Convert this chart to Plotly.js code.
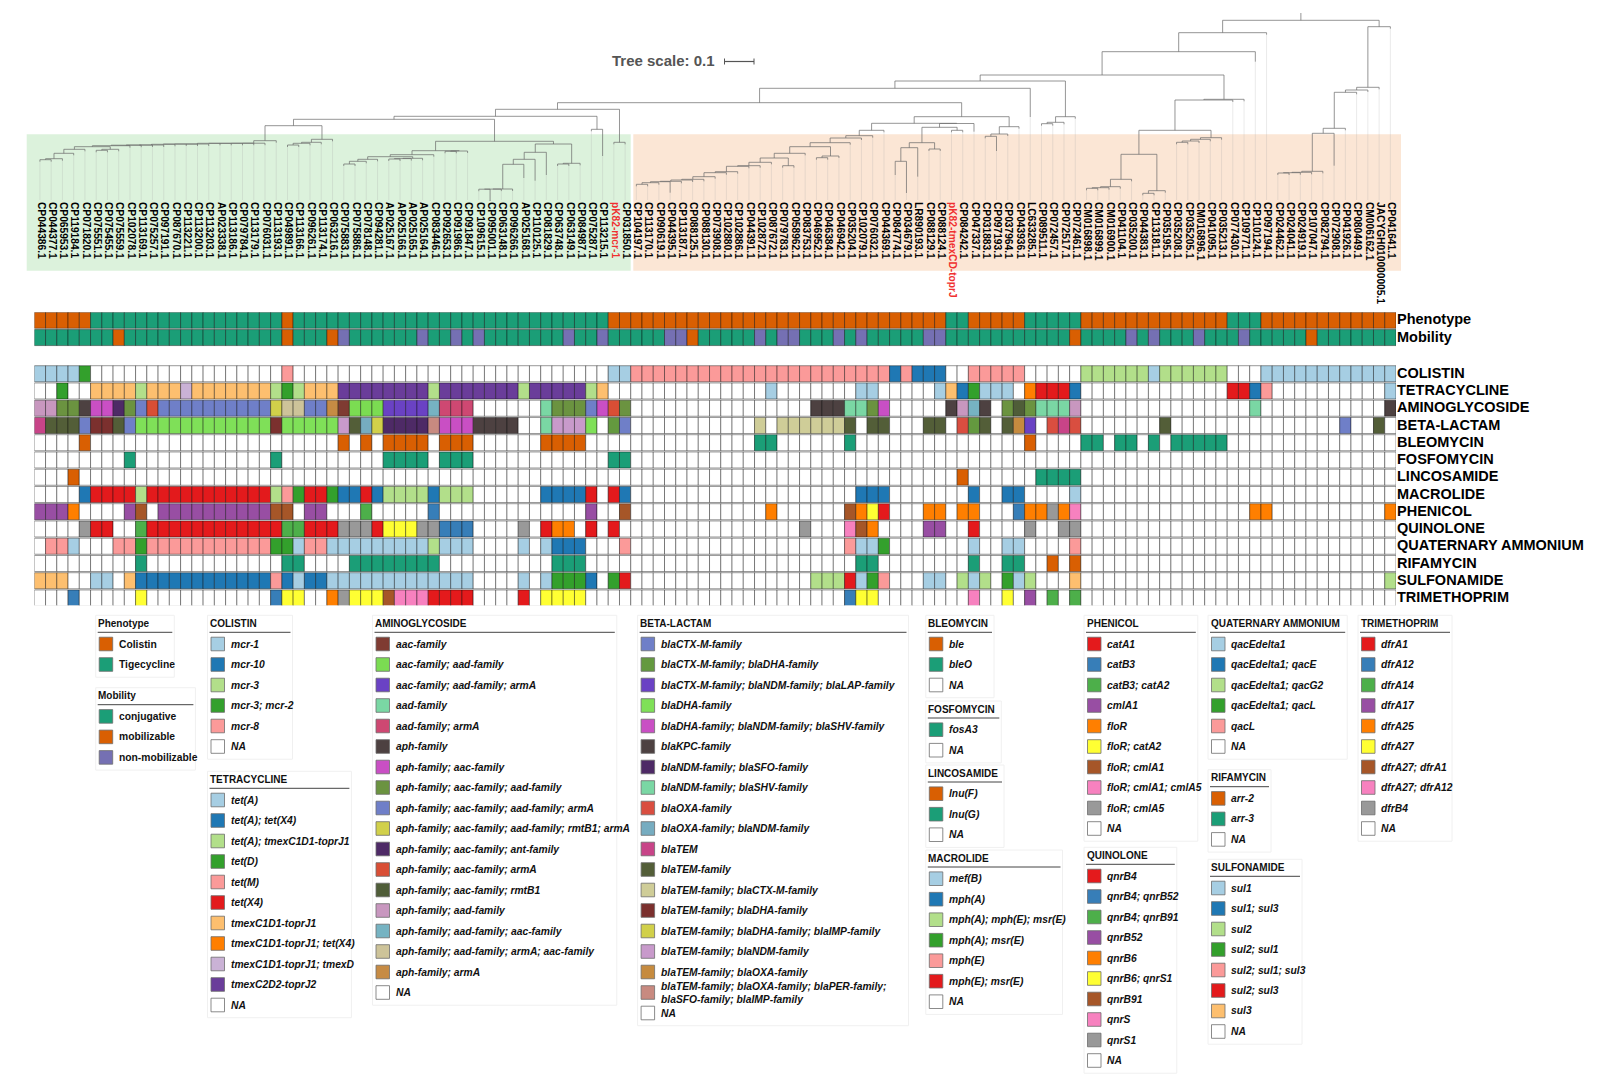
<!DOCTYPE html>
<html><head><meta charset="utf-8">
<script src="https://cdn.plot.ly/plotly-3.0.1.min.js"></script>
<style>html,body{margin:0;padding:0;background:#fff}#c{width:1622px;height:1091px}</style>
</head><body><div id="c"></div>
<script>
// ---------- leaves ----------
const leaves=["CP044386.1","CP044377.1","CP065953.1","CP119184.1","CP071820.1","CP075551.1","CP075455.1","CP075559.1","CP102078.1","CP113169.1",
"CP075257.1","CP097191.1","CP087670.1","CP113221.1","CP113200.1","CP113203.1","AP023338.1","CP113186.1","CP079784.1","CP113179.1",
"CP076031.1","CP113193.1","CP049891.1","CP113166.1","CP096261.1","CP113174.1","CP063216.1","CP075883.1","CP075886.1","CP078148.1",
"CP094281.1","AP025167.1","AP025166.1","AP025165.1","AP025164.1","CP083446.1","CP092653.1","CP091986.1","CP091847.1","CP109615.1",
"CP095001.1","CP063148.1","CP096266.1","AP025168.1","CP110125.1","CP081829.1","CP063748.1","CP063149.1","CP084987.1","CP075287.1",
"CP113215.1","pK82-mcr-1","CP031850.1","CP104197.1","CP113170.1","CP090619.1","CP044395.1","CP113187.1","CP088125.1","CP088130.1",
"CP073908.1","CP102880.1","CP102886.1","CP044391.1","CP102872.1","CP087672.1","CP079783.1","CP058962.1","CP083753.1","CP046952.1",
"CP046384.1","CP046942.1","CP035204.1","CP102079.1","CP076032.1","CP044369.1","CP084774.1","CP034679.1","LR890193.1","CP088129.1",
"CP088124.1","pK82-tmexCD-toprJ","CP084242.1","CP047337.1","CP031883.1","CP097193.1","CP037964.1","CP043936.1","LC633285.1","CP089511.1",
"CP072457.1","CP072517.1","CP072461.1","CM016898.1","CM016899.1","CM016900.1","CP041104.1","CP035200.1","CP044383.1","CP113181.1",
"CP035195.1","CP035208.1","CP035205.1","CM016896.1","CP041095.1","CP035213.1","CP077430.1","CP109771.1","CP110124.1","CP097194.1",
"CP024462.1","CP024041.1","CP024919.1","CP107047.1","CP082794.1","CP072908.1","CP041926.1","CP080449.1","CM006162.1","JACYGH010000005.1",
"CP041641.1"];
const redLeaves=["pK82-mcr-1","pK82-tmexCD-toprJ"];

// ---------- annotation rows (0 = NA, n = n-th legend entry) ----------
const phenotype=[1,1,1,1,1,2,2,2,2,2, 2,2,2,2,2,2,2,2,2,2, 2,2,1,2,2,2,2,2,2,2, 2,2,2,2,2,2,2,2,2,2, 2,2,2,2,2,2,2,2,2,2,
 2,1,1,1,1,1,1,1,1,1, 1,1,1,1,1,1,1,1,1,1, 1,1,1,1,1,1,1,1,1,1, 1,2,2,1,1,1,1,1,2,2, 2,2,2,1,1,1,1,1,1,1, 1,1,1,1,1,1,2,2,2,1, 1,1,1,1,1,1,1,1,1,1, 1];
const mobility=[1,1,1,1,1,1,1,2,1,1, 1,1,1,1,1,1,1,1,1,1, 1,1,2,1,1,1,2,3,1,1, 1,1,1,1,3,1,1,3,1,3, 1,1,1,1,1,1,1,3,1,1,
 3,1,1,1,1,1,3,3,2,1, 1,1,1,1,3,1,3,3,1,1, 1,3,1,3,1,1,1,1,1,3, 3,1,1,1,1,1,1,1,1,1, 1,1,2,1,1,1,1,3,1,3, 1,1,1,3,1,1,1,3,1,1, 1,1,1,2,1,1,1,1,1,1, 1];
const colistin=[1,1,1,1,4,0,0,0,0,0, 0,0,0,0,0,0,0,0,0,0, 0,0,5,0,0,0,0,0,0,0, 0,0,0,0,0,0,0,0,0,0, 0,0,0,0,0,0,0,0,0,0,
 0,1,1,5,5,5,5,5,5,5, 5,5,5,5,5,5,5,5,5,5, 5,5,5,5,5,5,2,5,2,2, 2,0,0,5,5,5,5,5,0,0, 0,0,0,3,3,3,3,3,3,1, 3,3,3,3,3,3,0,0,0,1, 1,1,1,1,1,1,1,1,1,1, 1];
const tetracycline=[0,0,4,0,0,7,7,7,7,3, 7,7,7,9,7,7,7,7,7,7, 7,3,4,3,7,7,7,10,10,10, 10,10,10,10,10,3,10,10,10,10, 10,10,10,3,10,10,10,10,10,3,
 7,0,0,0,0,0,0,0,0,0, 0,0,0,0,0,1,0,0,0,0, 0,0,0,1,1,0,0,0,0,0, 1,7,2,4,1,1,1,0,8,6, 6,6,2,0,0,0,0,0,0,0, 0,0,0,0,0,0,6,6,2,5, 0,0,0,0,0,0,0,0,0,0, 1];
const aminoglycoside=[14,14,8,8,6,7,7,11,8,9, 12,9,9,9,9,9,9,9,9,9, 9,10,16,16,9,9,17,1,2,2, 2,3,3,3,3,15,5,5,5,0, 0,0,0,0,0,4,8,8,8,9,
 7,12,8,0,0,0,0,0,0,0, 0,0,0,0,0,0,0,0,0,6, 6,6,4,4,8,7,0,0,0,0, 0,6,14,15,6,0,8,13,8,4, 4,4,14,0,0,0,0,0,0,0, 0,0,0,0,0,0,0,0,4,0, 0,0,0,0,0,0,0,0,0,0, 6];
const betaLactam=[11,12,12,12,1,14,14,12,1,4, 4,4,4,4,4,4,4,4,4,4, 4,14,4,4,4,4,4,16,12,10, 15,7,7,7,7,18,5,5,5,6, 6,6,6,0,0,8,16,16,16,4,
 0,2,1,0,0,0,0,0,0,0, 0,0,0,0,13,0,13,13,13,13, 13,13,12,0,12,12,0,0,0,12, 12,0,9,2,12,0,12,17,3,0, 9,11,9,0,0,0,0,0,0,0, 12,0,0,0,0,0,0,0,0,0, 0,0,0,0,0,0,1,0,0,12, 0];
const bleomycin=[0,0,0,0,1,0,0,0,0,0, 0,0,0,0,0,0,0,0,0,0, 0,0,0,0,0,0,0,1,0,1, 0,1,1,1,1,0,1,1,1,0, 0,0,0,0,0,1,1,1,1,0,
 0,0,0,0,0,0,0,0,0,0, 0,0,0,0,2,2,0,0,0,0, 0,0,2,0,0,0,0,0,0,0, 0,0,0,0,0,0,0,0,1,0, 0,0,0,2,2,0,2,2,0,2, 0,2,2,2,2,2,0,0,0,0, 0,0,0,0,0,0,0,0,0,0, 0];
const fosfomycin=[0,0,0,0,0,0,0,0,1,0, 0,0,0,0,0,0,0,0,0,0, 0,1,0,0,0,0,0,0,0,0, 0,1,1,1,1,0,1,1,1,0, 0,0,0,0,0,0,0,0,0,0,
 0,1,1,0,0,0,0,0,0,0, 0,0,0,0,0,0,0,0,0,0, 0,0,0,0,0,0,0,0,0,0, 0,0,0,0,0,0,0,0,0,0, 0,0,0,0,0,0,0,0,0,0, 0,0,0,0,0,0,0,0,0,0, 0,0,0,0,0,0,0,0,0,0, 0];
const lincosamide=[0,0,0,1,0,0,0,0,0,0, 0,0,0,0,0,0,0,0,0,0, 0,0,0,0,0,0,0,0,0,0, 0,0,0,0,0,0,0,0,0,0, 0,0,0,0,0,0,0,0,0,0,
 0,0,0,0,0,0,0,0,0,0, 0,0,0,0,0,0,0,0,0,0, 0,0,0,0,0,0,0,0,0,0, 0,0,1,0,0,0,0,0,0,2, 2,2,2,0,0,0,0,0,0,0, 0,0,0,0,0,0,0,0,0,0, 0,0,0,0,0,0,0,0,0,0, 0];
const macrolide=[0,0,0,0,2,6,6,6,6,3, 6,6,6,6,6,6,6,6,6,6, 6,3,5,4,6,6,4,2,2,6, 2,3,3,3,3,2,3,3,3,0, 0,0,0,0,0,2,2,2,2,6,
 0,6,2,0,0,0,0,0,0,0, 0,0,0,0,0,0,0,0,0,0, 0,0,0,2,2,2,0,0,0,0, 0,0,0,2,0,0,2,2,0,0, 0,0,1,0,0,0,0,0,0,0, 0,0,0,0,0,0,0,0,0,0, 0,0,0,0,0,0,0,0,0,0, 0];
const phenicol=[4,4,4,5,0,0,0,0,4,7, 0,4,4,4,4,4,4,4,4,4, 4,7,7,0,4,4,0,0,0,3, 0,0,0,0,0,2,0,0,0,0, 0,0,0,0,0,0,0,0,0,4,
 0,0,7,0,0,0,0,0,0,0, 0,0,0,0,0,5,0,0,0,0, 0,0,7,5,6,1,0,0,0,5, 5,0,5,5,0,0,0,2,5,5, 9,5,8,0,0,0,0,0,0,0, 0,0,0,0,0,0,0,0,5,5, 0,0,0,0,0,0,0,0,0,0, 5];
const quinolone=[0,0,0,0,9,1,1,0,0,3, 1,1,1,1,1,1,1,1,1,1, 1,1,3,3,1,1,1,9,9,9, 1,6,6,6,9,9,2,2,2,0, 0,0,0,9,0,1,5,5,0,1,
 0,1,0,0,0,0,0,0,0,0, 0,0,0,0,0,0,0,0,9,0, 0,0,8,7,5,0,0,0,0,4, 4,0,0,1,0,0,0,0,9,0, 0,9,9,0,0,0,0,0,0,0, 0,0,0,0,0,0,0,0,0,0, 0,0,0,0,0,0,0,0,0,0, 0];
const quaternary=[0,5,5,1,0,0,0,5,5,4, 5,5,5,5,5,5,5,5,5,5, 5,4,4,1,5,5,1,1,1,1, 1,1,1,1,1,3,1,1,1,0, 0,0,0,1,0,1,2,2,2,0,
 0,0,5,0,0,0,0,0,0,0, 0,0,0,0,0,0,0,0,0,0, 0,0,5,1,1,4,0,0,0,0, 0,0,0,1,0,0,1,1,0,0, 0,0,5,0,0,0,0,0,0,0, 0,0,0,0,0,0,0,0,0,0, 0,0,0,0,0,0,0,0,0,0, 0];
const rifamycin=[0,0,0,0,0,0,0,0,0,2, 0,0,0,0,0,0,0,0,0,0, 0,0,2,2,0,0,0,0,2,2, 2,2,2,2,2,2,0,0,0,0, 0,0,0,0,0,0,2,2,2,0,
 0,0,0,0,0,0,0,0,0,0, 0,0,0,0,0,0,0,0,0,0, 0,0,0,2,2,0,0,0,0,0, 0,0,0,2,0,0,2,2,0,0, 1,0,1,0,0,0,0,0,0,0, 0,0,0,0,0,0,0,0,0,0, 0,0,0,0,0,0,0,0,0,0, 0];
const sulfonamide=[7,7,7,0,0,1,1,0,7,2, 2,2,2,2,2,2,2,2,2,2, 2,5,2,1,2,2,1,1,1,1, 1,1,1,1,1,1,1,1,1,0, 0,0,0,1,0,1,4,4,4,2,
 0,4,6,0,0,0,0,0,0,0, 0,0,0,0,0,0,0,0,0,3, 3,3,6,1,4,5,0,0,0,1, 1,0,3,1,3,0,4,1,3,0, 0,0,7,0,0,0,0,0,0,0, 0,0,0,0,0,0,0,0,0,0, 0,0,0,0,0,0,0,0,0,0, 3];
const trimethoprim=[0,0,0,2,0,0,0,0,0,6, 0,0,0,0,0,0,0,0,0,0, 0,2,6,6,0,0,5,9,6,6, 6,7,8,8,8,1,1,1,1,0, 0,0,0,1,0,6,6,6,6,0,
 0,0,0,0,0,0,0,0,0,0, 0,0,0,0,0,0,0,0,0,0, 0,0,2,6,6,0,0,0,0,0, 0,0,0,8,0,0,6,0,4,0, 3,0,3,0,0,0,0,0,0,0, 0,0,0,0,0,0,0,0,0,0, 0,0,0,0,0,0,0,0,0,0, 0];

// ---------- legend entries ----------
const NA="NA", white="#ffffff";
const paired=["#A6CEE3","#1F78B4","#B2DF8A","#33A02C","#FB9A99","#E31A1C","#FDBF6F","#FF7F00","#CAB2D6","#6A3D9A"];
const set1=["#E41A1C","#377EB8","#4DAF4A","#984EA3","#FF7F00","#FFFF33","#A65628","#F781BF","#999999"];
const dark2=["#D95F02","#1B9E77","#7570B3"];
const dark2b=["#1B9E77","#D95F02","#7570B3"];
const phenotypeNames=["Colistin","Tigecycline"];
const mobilityNames=["conjugative","mobilizable","non-mobilizable"];
const colistinNames=["mcr-1","mcr-10","mcr-3","mcr-3; mcr-2","mcr-8",NA];
const tetracyclineNames=["tet(A)","tet(A); tet(X4)","tet(A); tmexC1D1-toprJ1","tet(D)","tet(M)","tet(X4)","tmexC1D1-toprJ1","tmexC1D1-toprJ1; tet(X4)","tmexC1D1-toprJ1; tmexD","tmexC2D2-toprJ2",NA];
const aminoNames=["aac-family","aac-family; aad-family","aac-family; aad-family; armA","aad-family","aad-family; armA","aph-family","aph-family; aac-family","aph-family; aac-family; aad-family","aph-family; aac-family; aad-family; armA","aph-family; aac-family; aad-family; rmtB1; armA","aph-family; aac-family; ant-family","aph-family; aac-family; armA","aph-family; aac-family; rmtB1","aph-family; aad-family","aph-family; aad-family; aac-family","aph-family; aad-family; armA; aac-family","aph-family; armA",NA];
const aminoColors=["#7F3B32","#7BDC52","#6A42C4","#7AD7A4","#CE4872","#4D4141","#C94FC4","#6B9340","#6F7FC8","#D1D04A","#4E2A66","#D94E35","#4F5D38","#C897BF","#76B3C2","#CDC399","#C68B44"];
const betaNames=["blaCTX-M-family","blaCTX-M-family; blaDHA-family","blaCTX-M-family; blaNDM-family; blaLAP-family","blaDHA-family","blaDHA-family; blaNDM-family; blaSHV-family","blaKPC-family","blaNDM-family; blaSFO-family","blaNDM-family; blaSHV-family","blaOXA-family","blaOXA-family; blaNDM-family","blaTEM","blaTEM-family","blaTEM-family; blaCTX-M-family","blaTEM-family; blaDHA-family","blaTEM-family; blaDHA-family; blaIMP-family","blaTEM-family; blaNDM-family","blaTEM-family; blaOXA-family","blaTEM-family; blaOXA-family; blaPER-family;<br>blaSFO-family; blaIMP-family",NA];
const betaColors=["#6F7FC8","#64993F","#6A42C4","#7FE058","#C94FC4","#4D4141","#4E2A66","#7AD7A4","#D94E40","#76ACC0","#C84488","#535E38","#CFCD98","#7B302E","#D1D04A","#C89ACB","#C68B3F","#C88A80"];
const bleoNames=["ble","bleO",NA];
const fosfoNames=["fosA3",NA];
const lincoNames=["lnu(F)","lnu(G)",NA];
const macroNames=["mef(B)","mph(A)","mph(A); mph(E); msr(E)","mph(A); msr(E)","mph(E)","mph(E); msr(E)",NA];
const phenicolNames=["catA1","catB3","catB3; catA2","cmlA1","floR","floR; catA2","floR; cmlA1","floR; cmlA1; cmlA5","floR; cmlA5",NA];
const quinoloneNames=["qnrB4","qnrB4; qnrB52","qnrB4; qnrB91","qnrB52","qnrB6","qnrB6; qnrS1","qnrB91","qnrS","qnrS1",NA];
const quatNames=["qacEdelta1","qacEdelta1; qacE","qacEdelta1; qacG2","qacEdelta1; qacL","qacL",NA];
const rifaNames=["arr-2","arr-3",NA];
const sulfaNames=["sul1","sul1; sul3","sul2","sul2; sul1","sul2; sul1; sul3","sul2; sul3","sul3",NA];
const trimNames=["dfrA1","dfrA12","dfrA14","dfrA17","dfrA25","dfrA27","dfrA27; dfrA1","dfrA27; dfrA12","dfrB4",NA];
const greens=[dark2[1]];

// ---------- tree: [height, childA, childB]; a number is a leaf column ----------
const ladder=(first,steps)=>steps.reduce((n,s)=>[s[0],n,s[1]],first);
const cladeL1=ladder([146.7,ladder([159.7,0,1],[[158.7,2],[153.3,3],[149.3,4]]),[149.3,[150.3,5,6],7]],[[145.7,8],[145.2,9],[145,10],[145,11],[144.3,12],[144,13],[144,14],[144,15],[143.3,16],[143.3,17],[143.3,18],[143.2,19],[143.2,20],[140.7,21]]);
const cladeC22=ladder([145,22,23],[[143.3,24],[142.3,25],[139.3,26]]);
const cladeY=ladder([159,31,32],[[158.6,33],[158.3,34]]);
const cladeA=[154.7,[156.7,ladder([164,27,28],[[161.3,29],[159.3,30]]),cladeY],35];
const cladeB=[151,[151.3,36,37],38];
const cladeH1=ladder([189.2,39,40],[[189.1,41],[189,42],[164.3,43],[159.3,44],[152.3,45]]);
const cladeH2=ladder([164,46,47],[[163.3,48]]);
const cladeG=[109.3,[116.3,[119.3,[125.7,cladeL1,cladeC22],[141.3,[150.7,cladeA,cladeB],[144,cladeH1,cladeH2]]],[129.3,49,50]],[142.3,51,52]];
const cladeQ=ladder([184.3,53,54],[[182.7,55],[181.7,56],[181.3,57],[180,58],[179.3,59],[176.7,60],[172.7,61],[171.7,62],[166.3,63],[165.7,64],[162.3,65]]);
const cladeQ2=[146.7,[153.3,[158,cladeQ,[165.7,66,67]],68],[156,[157.7,69,70],71]];
const cladeQ3=ladder(cladeQ2,[[142.7,72],[138,73],[135.7,74],[130.3,75]]);
const cladeT=[142.7,[147.7,[161.3,76,77],78],[149,79,80]];
const cladeW1=[123.3,cladeQ3,[123.5,[127.3,cladeT,[130.3,81,82]],83]];
const cladeW2=ladder([136.3,84,85],[[134,86],[126.7,87]]);
const cladeV=ladder([123.7,89,90],[[122.3,91],[116.7,92]]);
const cladeN1=ladder([188.3,93,94],[[187.7,95],[186.7,96],[179.3,97]]);
const cladeN2=ladder([193.3,98,99],[[190.7,100]]);
const cladeM4=ladder([142.3,101,102],[[141,103],[139.3,104],[137.7,105]]);
const cladeM=ladder([130.3,[154.3,cladeN1,cladeN2],cladeM4],[[100,106],[99.3,107]]);
const cladeR=ladder(ladder([173,110,111],[[172.7,112],[172.3,113],[171.3,114]]),[[133.3,115],[128.3,116],[92.3,117],[90,118],[87.3,119],[26.7,120]]);
const tree=[20.3,[32.7,[51.7,[75,[81,[88.3,[102.7,cladeG,[116.7,cladeW1,cladeW2]],88],cladeV],cladeM],108],109],cladeR];
const rootTop=13, leafDefaultSolid=2, leafBottom=200;
const leafSolidEnd={40:201,43:178,44:180.7,45:175,50:156,56:192.7,76:175,77:193,78:176.7,83:131.7,85:151,88:117,108:61.7,115:165.7};

// ---------- geometry ----------
const W=1622,H=1091;
const px=x=>x/W, py=y=>1-y/H;
const heatL=34.3,heatR=1396,heatT=312.3,heatB=605.3,rowPitch=17.25,rowH=0.93;
const rowList=[
 ["Phenotype",phenotype,dark2],["Mobility",mobility,dark2b],
 ["COLISTIN",colistin,paired],["TETRACYCLINE",tetracycline,paired],["AMINOGLYCOSIDE",aminoglycoside,aminoColors],["BETA-LACTAM",betaLactam,betaColors],
 ["BLEOMYCIN",bleomycin,dark2],["FOSFOMYCIN",fosfomycin,greens],["LINCOSAMIDE",lincosamide,dark2],["MACROLIDE",macrolide,paired],
 ["PHENICOL",phenicol,set1],["QUINOLONE",quinolone,set1],["QUATERNARY AMMONIUM",quaternary,paired],["RIFAMYCIN",rifamycin,dark2],["SULFONAMIDE",sulfonamide,paired],["TRIMETHOPRIM",trimethoprim,set1]];
const rowTop=i=> i<2? i : 3.096+(i-2);
const cols=leaves.map((_,i)=>i);
rowList.forEach(r=>{if(r[1].length!==leaves.length) throw new Error(r[0]+" has "+r[1].length);});

const FONT="Liberation Sans, Arial, sans-serif";
const traces=[];
// heat rows as bars
rowList.forEach((r,i)=>{
  traces.push({type:"bar",x:cols,y:cols.map(()=>rowH),base:cols.map(()=>rowTop(i)),width:1,
    marker:{color:r[1].map(v=>v?r[2][v-1]:white),line:{color:"rgba(0,0,0,0.48)",width:0.85}},
    xaxis:"x",yaxis:"y",hoverinfo:"skip",showlegend:false});
});
// tree
const solidX=[],solidY=[],fadeX=[],fadeY=[];
function seg(a,x0,y0,x1,y1){a[0].push(x0,x1,null);a[1].push(y0,y1,null);}
function walk(n,parentY){
  if(typeof n==="number"){
    const e=leafSolidEnd[n]||parentY+leafDefaultSolid;
    seg([solidX,solidY],n,parentY,n,e);
    seg([fadeX,fadeY],n,e,n,leafBottom);
    return n;
  }
  const a=walk(n[1],n[0]),b=walk(n[2],n[0]),x=(a+b)/2;
  seg([solidX,solidY],a,n[0],b,n[0]);
  if(parentY!==null) seg([solidX,solidY],x,parentY,x,n[0]);
  return x;
}
const rootX=walk(tree,null);
seg([solidX,solidY],rootX,rootTop,rootX,tree[0]);
traces.push({type:"scatter",mode:"lines",x:fadeX,y:fadeY,xaxis:"x",yaxis:"y2",line:{color:"rgba(165,165,165,0.4)",width:0.6},hoverinfo:"skip",showlegend:false});
traces.push({type:"scatter",mode:"lines",x:solidX,y:solidY,xaxis:"x",yaxis:"y2",line:{color:"rgba(105,105,105,0.75)",width:0.95},hoverinfo:"skip",showlegend:false});

// shapes + annotations
const shapes=[
 {type:"rect",xref:"paper",yref:"paper",x0:px(26.7),x1:px(630.7),y0:py(270.7),y1:py(134.3),fillcolor:"#DCF2DC",line:{width:0},layer:"below"},
 {type:"rect",xref:"paper",yref:"paper",x0:px(633.3),x1:px(1401),y0:py(270.7),y1:py(134.3),fillcolor:"#FBE6D5",line:{width:0},layer:"below"},
 {type:"line",xref:"paper",yref:"paper",x0:px(724.5),x1:px(754),y0:py(61.5),y1:py(61.5),line:{color:"#555",width:1.2}},
 {type:"line",xref:"paper",yref:"paper",x0:px(724.5),x1:px(724.5),y0:py(58.5),y1:py(64.5),line:{color:"#555",width:1}},
 {type:"line",xref:"paper",yref:"paper",x0:px(754),x1:px(754),y0:py(58.5),y1:py(64.5),line:{color:"#555",width:1}},
];
const annos=[{xref:"paper",yref:"paper",x:px(610),y:py(60.5),text:"Tree scale: 0.1",showarrow:false,xanchor:"left",yanchor:"middle",font:{family:FONT,size:15,weight:"bold",color:"#555"}}];

const legends=[
 {t:"Phenotype",n:phenotypeNames,c:dark2,x0:95.7,x1:174.3,top:615.3,plain:true},
 {t:"Mobility",n:mobilityNames,c:dark2b,x0:95.7,x1:195.4,top:687.7,plain:true},
 {t:"COLISTIN",n:colistinNames,c:paired,x0:207.5,x1:292.5,top:615.3},
 {t:"TETRACYCLINE",n:tetracyclineNames,c:paired,x0:207.5,x1:351.4,top:771.3},
 {t:"AMINOGLYCOSIDE",n:aminoNames,c:aminoColors,x0:372.5,x1:616.8,top:615.3},
 {t:"BETA-LACTAM",n:betaNames,c:betaColors,x0:637.6,x1:908.5,top:615.3},
 {t:"BLEOMYCIN",n:bleoNames,c:dark2,x0:925.8,x1:994,top:615.3},
 {t:"FOSFOMYCIN",n:fosfoNames,c:greens,x0:925.8,x1:1001.3,top:701},
 {t:"LINCOSAMIDE",n:lincoNames,c:dark2,x0:925.8,x1:1004,top:765},
 {t:"MACROLIDE",n:macroNames,c:paired,x0:925.8,x1:1062.5,top:850},
 {t:"PHENICOL",n:phenicolNames,c:set1,x0:1084,x1:1197.8,top:615.3},
 {t:"QUINOLONE",n:quinoloneNames,c:set1,x0:1084,x1:1176.8,top:847.3},
 {t:"QUATERNARY AMMONIUM",n:quatNames,c:paired,x0:1208,x1:1347.2,top:615.3},
 {t:"RIFAMYCIN",n:rifaNames,c:dark2,x0:1208,x1:1271,top:769.7},
 {t:"SULFONAMIDE",n:sulfaNames,c:paired,x0:1208,x1:1302,top:859.3},
 {t:"TRIMETHOPRIM",n:trimNames,c:set1,x0:1358,x1:1452,top:615.3}];
const itemPitch=20.5;
legends.forEach(L=>{
  const y1=L.top+28.7+itemPitch*(L.n.length-1)+12.7;
  shapes.push({type:"rect",xref:"paper",yref:"paper",x0:px(L.x0),x1:px(L.x1),y0:py(y1),y1:py(L.top),fillcolor:"rgba(0,0,0,0)",line:{color:"#f0f0f0",width:1},layer:"below"});
  shapes.push({type:"line",xref:"paper",yref:"paper",x0:px(L.x0+2),x1:px(L.x1-2),y0:py(L.top+17),y1:py(L.top+17),line:{color:"#444",width:1}});
  annos.push({xref:"paper",yref:"paper",x:px(L.x0+0.5),y:py(L.top+8),text:L.t,showarrow:false,xanchor:"left",yanchor:"middle",font:{family:FONT,size:10,weight:"bold",color:"#111"}});
  L.n.forEach((name,i)=>{
    const yc=L.top+28.7+itemPitch*i, col=name===NA?white:L.c[i];
    shapes.push({type:"rect",xref:"paper",yref:"paper",x0:px(L.x0+3.5),x1:px(L.x0+17),y0:py(yc+6.8),y1:py(yc-6.8),fillcolor:col,line:{color:"rgba(110,110,110,0.8)",width:1}});
    annos.push({xref:"paper",yref:"paper",x:px(L.x0+21),y:py(yc),text:name,align:"left",showarrow:false,xanchor:"left",yanchor:"middle",font:{family:FONT,size:10.3,weight:"bold",style:L.plain?"normal":"italic",color:"#111"}});
  });
});

const layout={width:W,height:H,margin:{l:0,r:0,t:0,b:0},paper_bgcolor:"#fff",plot_bgcolor:"rgba(0,0,0,0)",showlegend:false,barmode:"overlay",
 xaxis:{domain:[px(heatL),px(heatR)],range:[-0.5,120.5],anchor:"free",position:py(201),tickmode:"array",tickvals:cols,
   ticktext:leaves.map(s=>redLeaves.includes(s)?'<span style="color:#F03030">'+s+'</span>':s),tickangle:90,ticks:"",ticklabelshift:1,showgrid:false,zeroline:false,showline:false,automargin:false,
   tickfont:{family:FONT,size:10.2,weight:"bold",color:"#000"}},
 yaxis:{domain:[py(heatB),py(heatT)],range:[(heatB-heatT)/rowPitch,0],anchor:"x",side:"right",tickmode:"array",tickvals:rowList.map((r,i)=>rowTop(i)+rowH/2-0.06),ticktext:rowList.map(r=>r[0]),ticks:"",showgrid:false,zeroline:false,showline:false,automargin:false,
   tickfont:{family:FONT,size:14.5,weight:"bold",color:"#000"}},
 yaxis2:{domain:[0,1],range:[H,0],anchor:"x",visible:false},
 shapes:shapes,annotations:annos};
Plotly.newPlot("c",traces,layout,{staticPlot:true,displayModeBar:false});
</script></body></html>
